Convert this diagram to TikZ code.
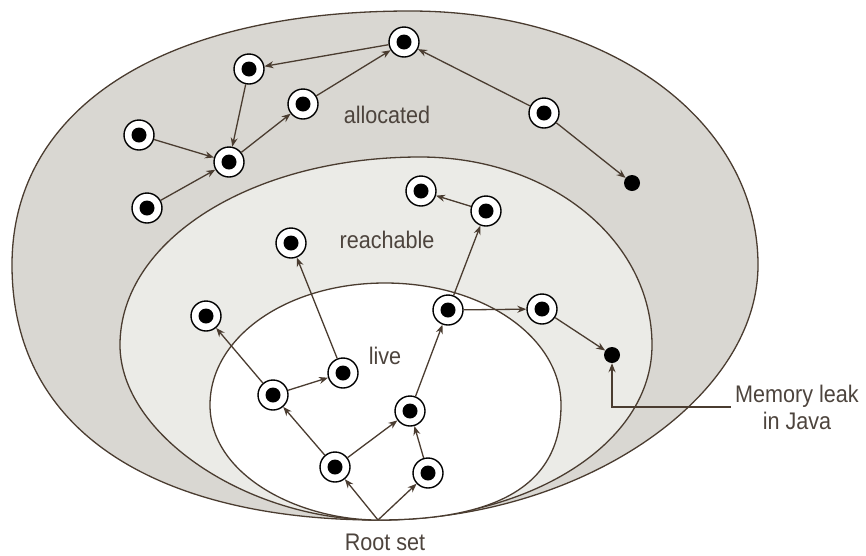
\documentclass[tikz,border=0pt]{standalone}
\usepackage{fontspec}
\setmainfont{Liberation Sans}[FakeStretch=0.9]
\usetikzlibrary{arrows.meta}

\definecolor{inkbrown}{HTML}{4A3C30}
\definecolor{labelgray}{HTML}{4D443D}
\definecolor{allocfill}{HTML}{D9D7D2}
\definecolor{reachfill}{HTML}{EBEBE7}

\begin{document}
\begin{tikzpicture}[
  x=1pt, y=-1pt,
  obj/.style={circle, draw=black, line width=1.4pt, fill=white, minimum size=30pt, inner sep=0pt,
    path picture={\fill[black] (path picture bounding box.center) circle (7.5pt);}},
  leak/.style={circle, fill=black, minimum size=16pt, inner sep=0pt},
  ref/.style={draw=inkbrown, line width=1.3pt, -{Stealth[length=9pt, width=7pt]}},
  zone/.style={draw=inkbrown, line width=1.3pt},
  lbl/.style={text=labelgray, font=\fontsize{24}{27}\selectfont}
]
  \useasboundingbox (0,0) rectangle (866,555);

  % --- the three heaps, all meeting at the root set ---
  \coordinate (root) at (378,520);
  \filldraw[zone, fill=allocfill] (root)
    .. controls (178,520) and (12,445) .. (12,265)
    .. controls (12,108) and (163,11) .. (410,11)
    .. controls (608,11) and (758,120) .. (758,265)
    .. controls (758,400) and (578,520) .. (root) -- cycle;
  \filldraw[zone, fill=reachfill] (root)
    .. controls (248,520) and (120,435) .. (120,345)
    .. controls (120,240) and (252,157) .. (420,157)
    .. controls (550,157) and (652,240) .. (652,345)
    .. controls (652,445) and (528,520) .. (root) -- cycle;
  \filldraw[zone, fill=white] (root)
    .. controls (298,520) and (210,475) .. (210,405)
    .. controls (210,337) and (287,283) .. (385,283)
    .. controls (483,283) and (561,337) .. (561,405)
    .. controls (561,485) and (498,520) .. (root) -- cycle;

  \node[lbl] (allocated) at (387,115) {allocated};
  \node[lbl] (reachable) at (387,240) {reachable};
  \node[lbl] (live) at (385,356) {live};
  \node[lbl] (rootset) at (385,542) {Root set};
  \node[lbl, align=center, inner sep=4pt] (memleak) at (797,407) {Memory leak\\in Java};

  % --- allocated only ---
  \node[obj] (a-top) at (404,42) {};
  \node[obj] (a-left) at (249,69) {};
  \node[obj] (a-mid) at (303,104) {};
  \node[obj] (a-far) at (139,135) {};
  \node[obj] (a-hub) at (229,162) {};
  \node[obj] (a-low) at (147,208) {};
  \node[obj] (a-right) at (544,113) {};
  \node[leak] (leak-a) at (632,183) {};

  % --- reachable ---
  \node[obj] (r-up) at (291,243) {};
  \node[obj] (r-top1) at (421,191) {};
  \node[obj] (r-top2) at (486,211) {};
  \node[obj] (r-left) at (206,316) {};
  \node[obj] (r-right) at (542,309) {};
  \node[leak] (leak-r) at (612,355) {};

  % --- live ---
  \node[obj] (l-a) at (273,395) {};
  \node[obj] (l-b) at (343,373) {};
  \node[obj] (l-c) at (410,411) {};
  \node[obj] (l-d) at (448,310) {};
  \node[obj] (l-e) at (335,467) {};
  \node[obj] (l-f) at (428,473) {};

  % references
  \draw[ref] (a-top) -- (a-left);
  \draw[ref] (a-left) -- (a-hub);
  \draw[ref] (a-far) -- (a-hub);
  \draw[ref] (a-low) -- (a-hub);
  \draw[ref] (a-hub) -- (a-mid);
  \draw[ref] (a-mid) -- (a-top);
  \draw[ref] (a-right) -- (a-top);
  \draw[ref] (a-right) -- (leak-a);

  \draw[ref] (root) -- (l-e);
  \draw[ref] (root) -- (l-f);
  \draw[ref] (l-e) -- (l-a);
  \draw[ref] (l-e) -- (l-c);
  \draw[ref] (l-f) -- (l-c);
  \draw[ref] (l-a) -- (l-b);
  \draw[ref] (l-a) -- (r-left);
  \draw[ref] (l-b) -- (r-up);
  \draw[ref] (l-c) -- (l-d);
  \draw[ref] (l-d) -- (r-top2);
  \draw[ref] (r-top2) -- (r-top1);
  \draw[ref] (l-d) -- (r-right);
  \draw[ref] (r-right) -- (leak-r);

  \draw[ref] (memleak.west) -| (leak-r);
\end{tikzpicture}
\end{document}
